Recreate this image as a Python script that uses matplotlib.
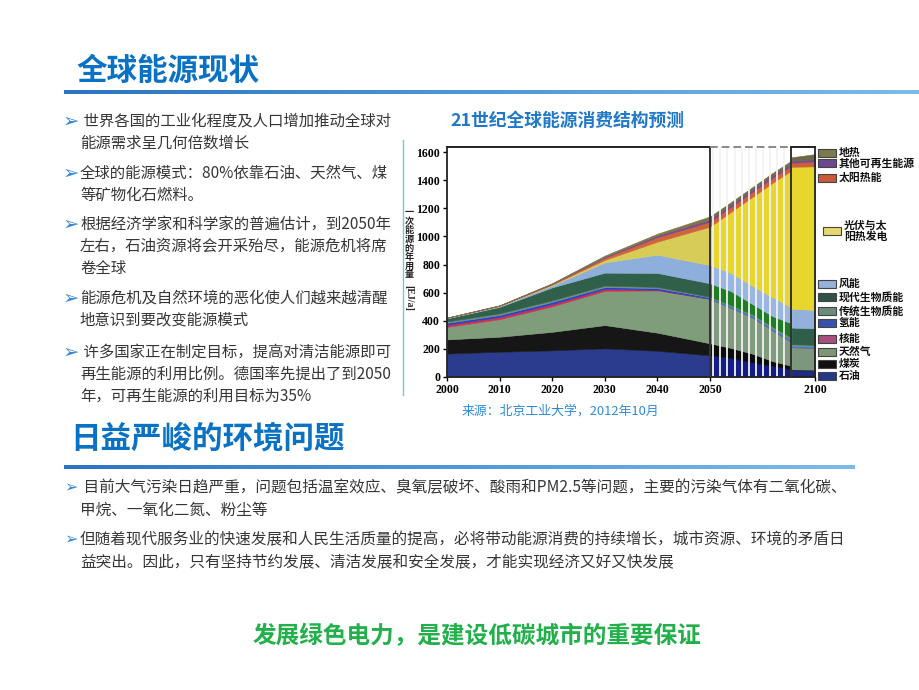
import numpy as np
import matplotlib
matplotlib.use('Agg')
import matplotlib.pyplot as plt
from matplotlib.patches import Rectangle
from matplotlib.lines import Line2D
from matplotlib.colors import LinearSegmentedColormap

plt.rcParams['font.family'] = ['Noto Sans CJK SC', 'DejaVu Sans']

# 21世纪全球能源消费结构预测 (EJ/a)
years = [2000, 2010, 2020, 2030, 2040, 2050, 2060, 2070, 2080, 2088, 2089, 2100]
oil = [165, 178, 188, 202, 185, 152, 133, 102, 75, 55, 48, 46]
coal = [101, 107, 132, 166, 129, 86, 72, 63, 35, 25, 4, 4]
gas = [89, 125, 182, 244, 301, 317, 287, 260, 220, 175, 158, 155]
nuclear = [15, 16, 16, 14, 5, 0, 0, 0, 0, 0, 0, 0]
hydro = [14, 14, 15, 13, 12, 10, 12, 12, 12, 12, 10, 10]
trad_bio = [10, 12, 12, 11, 8, 5, 6, 8, 13, 18, 12, 11]
modern_bio = [22, 46, 92, 92, 100, 96, 100, 75, 75, 100, 118, 119]
wind = [2, 5, 13, 73, 130, 130, 130, 130, 135, 115, 135, 131]
pv = [1, 2, 7, 18, 93, 274, 435, 630, 820, 962, 1012, 1024]
solar_heat = [1, 2, 4, 16, 32, 35, 35, 35, 35, 33, 28, 33]
other_renew = [1, 1, 3, 8, 13, 17, 18, 18, 18, 15, 15, 19]
geothermal = [1, 2, 3, 7, 12, 21, 17, 17, 17, 23, 25, 35]

series = [oil, coal, gas, nuclear, hydro, trad_bio, modern_bio, wind, pv,
          solar_heat, other_renew, geothermal]
legend_labels = ['地热', '其他可再生能源', '太阳热能', '光伏与太\n阳热发电', '风能', '现代生物质能',
                 '传统生物质能', '氢能', '核能', '天然气', '煤炭', '石油']
legend_colors = ['#7b7a4c', '#6a4a8e', '#c85a3a', '#e6d870', '#94b2da', '#2d5444',
                 '#6a8c78', '#3850a8', '#a8507a', '#7e9676', '#101010', '#23398a']

x_ticks = [2000, 2010, 2020, 2030, 2040, 2050, 2100]
y_ticks = [0, 200, 400, 600, 800, 1000, 1200, 1400, 1600]

# colours of the three parts of the chart (2000-2050, striped part, 2100 box)
left_colors = ['#2b3b8e', '#161616', '#7f9c7b', '#d0304c', '#2a40cc', '#6e8f7e',
               '#30604a', '#8eaedb', '#d8cc58', '#d0643c', '#7a4a8c', '#7b7848']
mid_colors = ['#141c88', '#0c0c0c', '#809b7d', '#d0304c', '#3a78d4', '#6a9078',
              '#1f7d24', '#9ab6e2', '#e6d62e', '#d4603a', '#7a4a8c', '#6f6e46']
box_colors = ['#1e2a80', '#101010', '#7c977c', '#d0304c', '#3a78d4', '#6a9078',
              '#2f5e4a', '#94b0dc', '#e6d62e', '#cf5f3a', '#7a4a8c', '#6b6a44']

W, H = 920, 690
fig = plt.figure(figsize=(9.2, 6.9), dpi=100)


def fx(px):
    return px / W


def fy(py):
    return 1 - py / H


# ---------- chart ----------
k = 2.1 / 5.26  # the years after 2050 are squeezed


def fwd(x):
    x = np.asarray(x, dtype=float)
    return np.where(x <= 2050, x, 2050 + (x - 2050) * k)


def inv(y):
    y = np.asarray(y, dtype=float)
    return np.where(y <= 2050, y, 2050 + (y - 2050) / k)


ax = fig.add_axes([fx(447), fy(376.7), (815 - 447) / W, (376.7 - 147) / H])
ax.set_xscale('function', functions=(fwd, inv))
ymax = 1638
ax.set_xlim(2000, 2100)
ax.set_ylim(0, ymax)

yrs = np.array(years)
data = np.array(series)
for sl, cols in [(slice(0, 6), left_colors), (slice(5, 11), mid_colors), (slice(10, 12), box_colors)]:
    ax.stackplot(yrs[sl], data[:, sl], colors=cols, linewidth=0.4, edgecolor='face', zorder=1)

for s in np.arange(2051.6, 2087, 3.36):
    ax.axvline(s, color='#f2f2f2', lw=1.3, zorder=2)

ax.axvline(2050, color='#333333', lw=1.4, zorder=4)
ax.axvline(2088.5, color='#333333', lw=1.4, zorder=4)
ax.plot([2000, 2050], [ymax, ymax], color='#222222', lw=1.4, clip_on=False, zorder=5)
ax.plot([2050, 2088.5], [ymax, ymax], color='#888888', lw=1.4, ls=(0, (4, 2)), clip_on=False, zorder=5)
ax.plot([2088.5, 2100], [ymax, ymax], color='#222222', lw=1.4, clip_on=False, zorder=5)
ax.spines['top'].set_visible(False)
for sp in ['left', 'bottom', 'right']:
    ax.spines[sp].set_linewidth(1.3)
    ax.spines[sp].set_color('#222222')

ax.set_xticks(x_ticks)
ax.set_xticklabels([str(t) for t in x_ticks])
ax.set_yticks(y_ticks)
ax.set_yticklabels([str(t) for t in y_ticks])
ax.minorticks_off()
ax.tick_params(length=3, width=1, pad=2)
for lab in ax.get_xticklabels() + ax.get_yticklabels():
    lab.set_fontfamily('Liberation Serif')
    lab.set_fontweight('bold')
    lab.set_fontsize(8.5)

# y label, stacked characters
fig.text(fx(409), fy(208), '\n'.join('一次能源的年用量'), fontsize=6.6, ha='center', va='top',
         linespacing=0.98, color='#222222', weight='bold')
fig.text(fx(409), fy(298), '[EJ/a]', fontsize=7, ha='center', va='center', rotation=-90,
         color='#222222', family=['Liberation Serif'], weight='bold')

fig.add_artist(Line2D([fx(403), fx(403)], [fy(140), fy(395)], color='#5fd6c8', lw=1))

# legend
leg_y = [152.7, 163, 178, 231, 284, 297, 311, 323, 339, 352, 364, 376]
for lab, col, yy in zip(legend_labels, legend_colors, leg_y):
    x0 = 823 if '\n' in lab else 818
    fig.add_artist(Rectangle((fx(x0), fy(yy + 4)), 18 / W, 8 / H, transform=fig.transFigure,
                             facecolor=col, edgecolor='#444444', lw=0.8))
    fig.text(fx(x0 + 21), fy(yy), lab, fontsize=7.8, ha='left', va='center',
             color='#111111', linespacing=1.0, weight='bold')

fig.text(fx(567), fy(120.5), '21世纪全球能源消费结构预测', fontsize=12.8, weight='bold',
         color='#1f78c8', ha='center', va='center')
fig.text(fx(560), fy(411), '来源：北京工业大学，2012年10月', fontsize=9.3,
         color='#2e8ad8', ha='center', va='center')


# ---------- slide text ----------
def title_bar(x0, x1, yc):
    bax = fig.add_axes([fx(x0), fy(yc + 2.5), (x1 - x0) / W, 5 / H])
    grad = np.linspace(0, 1, 256).reshape(1, -1)
    cmap = LinearSegmentedColormap.from_list('bar', ['#2c74c2', '#4f98d8', '#7dbbe9'])
    bax.imshow(grad, aspect='auto', cmap=cmap)
    bax.set_axis_off()


fig.text(fx(76), fy(71), '全球能源现状', fontsize=22, weight='bold', color='#0a72c4',
         ha='left', va='center')
title_bar(64, 920, 92)
fig.text(fx(70), fy(438), '日益严峻的环境问题', fontsize=22, weight='bold', color='#0a72c4',
         ha='left', va='center')
title_bar(64, 855, 467)

text_col = '#363636'
arrow_col = '#3385d6'
left_bullets = [
    (121, [' 世界各国的工业化程度及人口增加推动全球对', '能源需求呈几何倍数增长']),
    (173, ['全球的能源模式：80%依靠石油、天然气、煤', '等矿物化石燃料。']),
    (224, ['根据经济学家和科学家的普遍估计，到2050年', '左右，石油资源将会开采殆尽，能源危机将席', '卷全球']),
    (298, ['能源危机及自然环境的恶化使人们越来越清醒', '地意识到要改变能源模式']),
    (352, [' 许多国家正在制定目标，提高对清洁能源即可', '再生能源的利用比例。德国率先提出了到2050', '年，可再生能源的利用目标为35%']),
]
for y0, lines in left_bullets:
    fig.text(fx(63), fy(y0), '➢', fontsize=14, color=arrow_col, ha='left', va='center',
             family=['DejaVu Sans'])
    for i, ln in enumerate(lines):
        fig.text(fx(80), fy(y0 + i * 22.3), ln, fontsize=11.1, color=text_col,
                 ha='left', va='center')

bottom_bullets = [
    (488, [' 目前大气污染日趋严重，问题包括温室效应、臭氧层破坏、酸雨和PM2.5等问题，主要的污染气体有二氧化碳、',
           '甲烷、一氧化二氮、粉尘等']),
    (540, ['但随着现代服务业的快速发展和人民生活质量的提高，必将带动能源消费的持续增长，城市资源、环境的矛盾日',
           '益突出。因此，只有坚持节约发展、清洁发展和安全发展，才能实现经济又好又快发展']),
]
for y0, lines in bottom_bullets:
    fig.text(fx(64), fy(y0), '➢', fontsize=11.5, color=arrow_col, ha='left', va='center',
             family=['DejaVu Sans'])
    for i, ln in enumerate(lines):
        fig.text(fx(80), fy(y0 + i * 22.5), ln, fontsize=11.25, color=text_col,
                 ha='left', va='center')

fig.text(fx(477), fy(636), '发展绿色电力，是建设低碳城市的重要保证', fontsize=17, weight='bold',
         color='#22b04b', ha='center', va='center')

fig.savefig('out.png', dpi=100)
